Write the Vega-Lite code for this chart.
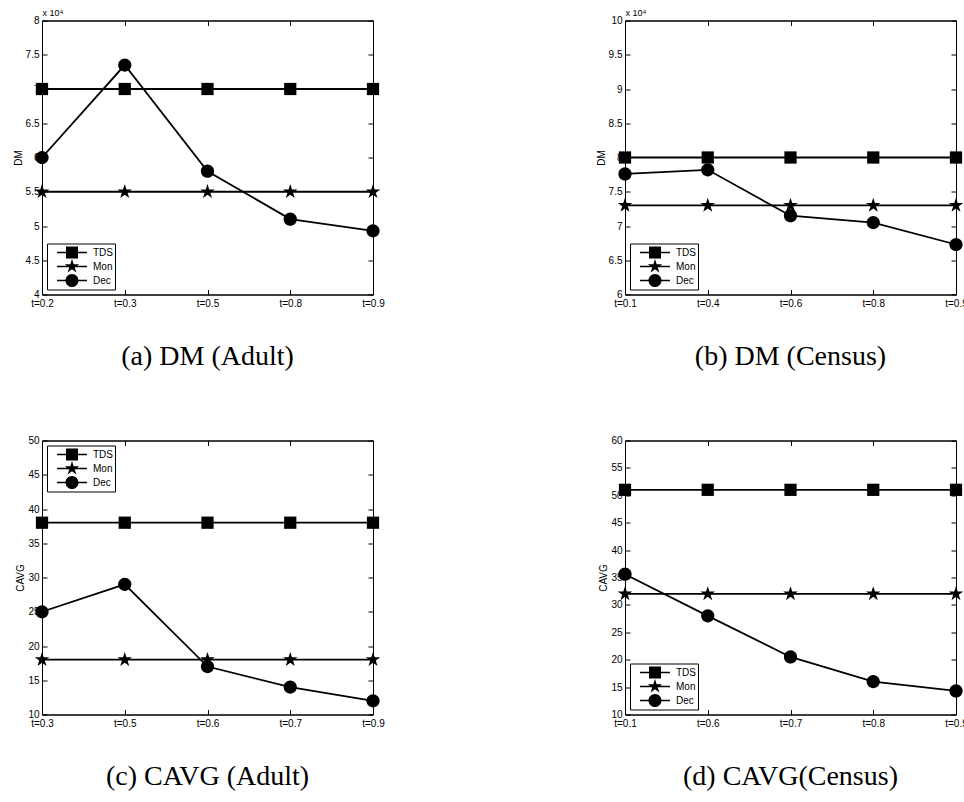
{
  "$schema": "https://vega.github.io/schema/vega-lite/v6.json",
  "background": "white",
  "padding": {"left": 12, "top": 7.5, "right": 0, "bottom": 0},
  "columns": 2,
  "spacing": {"row": 146, "column": 252},
  "bounds": "flush",
  "config": {
    "view": {"stroke": "black", "strokeWidth": 1},
    "axis": {
      "grid": false,
      "domainColor": "black",
      "domainWidth": 1,
      "tickColor": "black",
      "tickWidth": 1,
      "tickSize": -5,
      "labelFont": "Liberation Sans",
      "labelFontSize": 10,
      "labelColor": "black",
      "titleFont": "Liberation Sans",
      "titleFontSize": 10,
      "titleFontWeight": "normal",
      "titleColor": "black"
    },
    "legend": {
      "title": null,
      "strokeColor": "black",
      "fillColor": "white",
      "padding": 2,
      "offset": 5,
      "symbolSize": 196,
      "symbolOffset": 16,
      "symbolFillColor": "black",
      "symbolStrokeWidth": 0,
      "labelFont": "Liberation Sans",
      "labelFontSize": 10,
      "labelColor": "black",
      "labelOffset": 14,
      "rowPadding": 0
    },
    "title": {
      "orient": "bottom",
      "anchor": "middle",
      "frame": "group",
      "font": "Liberation Serif",
      "fontSize": 28,
      "fontWeight": "normal",
      "color": "black",
      "offset": 34
    }
  },
  "concat": [
    {
      "width": 331,
      "height": 274,
      "title": "(a) DM (Adult)",
      "data": {"values": [
        {"t": "t=0.2", "method": "TDS", "value": 70000},
        {"t": "t=0.3", "method": "TDS", "value": 70000},
        {"t": "t=0.5", "method": "TDS", "value": 70000},
        {"t": "t=0.8", "method": "TDS", "value": 70000},
        {"t": "t=0.9", "method": "TDS", "value": 70000},
        {"t": "t=0.2", "method": "Mon", "value": 55000},
        {"t": "t=0.3", "method": "Mon", "value": 55000},
        {"t": "t=0.5", "method": "Mon", "value": 55000},
        {"t": "t=0.8", "method": "Mon", "value": 55000},
        {"t": "t=0.9", "method": "Mon", "value": 55000},
        {"t": "t=0.2", "method": "Dec", "value": 60000},
        {"t": "t=0.3", "method": "Dec", "value": 73500},
        {"t": "t=0.5", "method": "Dec", "value": 58000},
        {"t": "t=0.8", "method": "Dec", "value": 51000},
        {"t": "t=0.9", "method": "Dec", "value": 49300}
      ]},
      "layer": [
        {
          "mark": {"type": "line", "color": "black", "strokeWidth": 1.8},
          "encoding": {
            "x": {"field": "t", "type": "ordinal", "sort": null, "scale": {"type": "point", "padding": 0},
                  "axis": {"orient": "bottom", "title": null, "labelAngle": 0, "labelPadding": 9}},
            "y": {"field": "value", "type": "quantitative", "scale": {"domain": [40000, 80000], "nice": false, "zero": false},
                  "axis": {"orient": "left", "title": "DM", "titlePadding": 2, "labelPadding": 8,
                           "values": [40000, 45000, 50000, 55000, 60000, 65000, 70000, 75000, 80000],
                           "labelExpr": "format(datum.value / 10000, '~g')"}},
            "detail": {"field": "method"}
          }
        },
        {
          "mark": {"type": "point", "filled": true, "color": "black", "opacity": 1, "size": 150},
          "encoding": {
            "x": {"field": "t", "type": "ordinal", "sort": null,
                  "axis": {"orient": "top", "labels": false, "title": "x 10⁴", "titleX": 0, "titleY": -5,
                           "titleAlign": "left", "titleBaseline": "alphabetic", "titleFontSize": 9}},
            "y": {"field": "value", "type": "quantitative",
                  "axis": {"orient": "right", "labels": false, "title": null,
                           "values": [40000, 45000, 50000, 55000, 60000, 65000, 70000, 75000, 80000]}},
            "shape": {"field": "method", "type": "nominal", "legend": null,
                      "scale": {"domain": ["TDS", "Mon", "Dec"],
                                "range": ["square", "M0,-1.25L0.281,-0.386L1.189,-0.386L0.454,0.148L0.735,1.011L0,0.478L-0.735,1.011L-0.454,0.148L-1.189,-0.386L-0.281,-0.386Z", "M-1.08,0A1.08,1.08,0,1,1,1.08,0A1.08,1.08,0,1,1,-1.08,0Z"]}}
          }
        },
        {
          "mark": {"type": "point", "filled": true, "color": "black", "opacity": 1, "size": 0},
          "encoding": {
            "x": {"field": "t", "type": "ordinal", "sort": null, "axis": null},
            "y": {"field": "value", "type": "quantitative", "axis": null},
            "shape": {"field": "method", "type": "nominal",
                      "scale": {"domain": ["TDS", "Mon", "Dec"],
                                "range": ["M-2.14,-0.107H2.14V0.107H-2.14ZM-0.857,-0.857H0.857V0.857H-0.857Z", "M-2.14,-0.107H2.14V0.107H-2.14ZM0,-1.07L0.24,-0.331L1.018,-0.331L0.389,0.126L0.629,0.866L0,0.409L-0.629,0.866L-0.389,0.126L-1.018,-0.331L-0.24,-0.331Z", "M-2.14,-0.107H2.14V0.107H-2.14ZM-0.93,0A0.93,0.93,0,1,1,0.93,0A0.93,0.93,0,1,1,-0.93,0Z"]},
                      "legend": {"orient": "bottom-left"}}
          }
        }
      ],
      "resolve": {"axis": {"x": "independent", "y": "independent"}, "scale": {"shape": "independent"}, "legend": {"shape": "independent"}}
    },
    {
      "width": 331,
      "height": 274,
      "title": "(b) DM (Census)",
      "data": {"values": [
        {"t": "t=0.1", "method": "TDS", "value": 80000},
        {"t": "t=0.4", "method": "TDS", "value": 80000},
        {"t": "t=0.6", "method": "TDS", "value": 80000},
        {"t": "t=0.8", "method": "TDS", "value": 80000},
        {"t": "t=0.9", "method": "TDS", "value": 80000},
        {"t": "t=0.1", "method": "Mon", "value": 73000},
        {"t": "t=0.4", "method": "Mon", "value": 73000},
        {"t": "t=0.6", "method": "Mon", "value": 73000},
        {"t": "t=0.8", "method": "Mon", "value": 73000},
        {"t": "t=0.9", "method": "Mon", "value": 73000},
        {"t": "t=0.1", "method": "Dec", "value": 77600},
        {"t": "t=0.4", "method": "Dec", "value": 78200},
        {"t": "t=0.6", "method": "Dec", "value": 71500},
        {"t": "t=0.8", "method": "Dec", "value": 70500},
        {"t": "t=0.9", "method": "Dec", "value": 67300}
      ]},
      "layer": [
        {
          "mark": {"type": "line", "color": "black", "strokeWidth": 1.8},
          "encoding": {
            "x": {"field": "t", "type": "ordinal", "sort": null, "scale": {"type": "point", "padding": 0},
                  "axis": {"orient": "bottom", "title": null, "labelAngle": 0, "labelPadding": 9}},
            "y": {"field": "value", "type": "quantitative", "scale": {"domain": [60000, 100000], "nice": false, "zero": false},
                  "axis": {"orient": "left", "title": "DM", "titlePadding": 2, "labelPadding": 8,
                           "values": [60000, 65000, 70000, 75000, 80000, 85000, 90000, 95000, 100000],
                           "labelExpr": "format(datum.value / 10000, '~g')"}},
            "detail": {"field": "method"}
          }
        },
        {
          "mark": {"type": "point", "filled": true, "color": "black", "opacity": 1, "size": 150},
          "encoding": {
            "x": {"field": "t", "type": "ordinal", "sort": null,
                  "axis": {"orient": "top", "labels": false, "title": "x 10⁴", "titleX": 0, "titleY": -5,
                           "titleAlign": "left", "titleBaseline": "alphabetic", "titleFontSize": 9}},
            "y": {"field": "value", "type": "quantitative",
                  "axis": {"orient": "right", "labels": false, "title": null,
                           "values": [60000, 65000, 70000, 75000, 80000, 85000, 90000, 95000, 100000]}},
            "shape": {"field": "method", "type": "nominal", "legend": null,
                      "scale": {"domain": ["TDS", "Mon", "Dec"],
                                "range": ["square", "M0,-1.25L0.281,-0.386L1.189,-0.386L0.454,0.148L0.735,1.011L0,0.478L-0.735,1.011L-0.454,0.148L-1.189,-0.386L-0.281,-0.386Z", "M-1.08,0A1.08,1.08,0,1,1,1.08,0A1.08,1.08,0,1,1,-1.08,0Z"]}}
          }
        },
        {
          "mark": {"type": "point", "filled": true, "color": "black", "opacity": 1, "size": 0},
          "encoding": {
            "x": {"field": "t", "type": "ordinal", "sort": null, "axis": null},
            "y": {"field": "value", "type": "quantitative", "axis": null},
            "shape": {"field": "method", "type": "nominal",
                      "scale": {"domain": ["TDS", "Mon", "Dec"],
                                "range": ["M-2.14,-0.107H2.14V0.107H-2.14ZM-0.857,-0.857H0.857V0.857H-0.857Z", "M-2.14,-0.107H2.14V0.107H-2.14ZM0,-1.07L0.24,-0.331L1.018,-0.331L0.389,0.126L0.629,0.866L0,0.409L-0.629,0.866L-0.389,0.126L-1.018,-0.331L-0.24,-0.331Z", "M-2.14,-0.107H2.14V0.107H-2.14ZM-0.93,0A0.93,0.93,0,1,1,0.93,0A0.93,0.93,0,1,1,-0.93,0Z"]},
                      "legend": {"orient": "bottom-left"}}
          }
        }
      ],
      "resolve": {"axis": {"x": "independent", "y": "independent"}, "scale": {"shape": "independent"}, "legend": {"shape": "independent"}}
    },
    {
      "width": 331,
      "height": 274,
      "title": "(c) CAVG (Adult)",
      "data": {"values": [
        {"t": "t=0.3", "method": "TDS", "value": 38},
        {"t": "t=0.5", "method": "TDS", "value": 38},
        {"t": "t=0.6", "method": "TDS", "value": 38},
        {"t": "t=0.7", "method": "TDS", "value": 38},
        {"t": "t=0.9", "method": "TDS", "value": 38},
        {"t": "t=0.3", "method": "Mon", "value": 18},
        {"t": "t=0.5", "method": "Mon", "value": 18},
        {"t": "t=0.6", "method": "Mon", "value": 18},
        {"t": "t=0.7", "method": "Mon", "value": 18},
        {"t": "t=0.9", "method": "Mon", "value": 18},
        {"t": "t=0.3", "method": "Dec", "value": 25},
        {"t": "t=0.5", "method": "Dec", "value": 29},
        {"t": "t=0.6", "method": "Dec", "value": 17},
        {"t": "t=0.7", "method": "Dec", "value": 14},
        {"t": "t=0.9", "method": "Dec", "value": 12}
      ]},
      "layer": [
        {
          "mark": {"type": "line", "color": "black", "strokeWidth": 1.8},
          "encoding": {
            "x": {"field": "t", "type": "ordinal", "sort": null, "scale": {"type": "point", "padding": 0},
                  "axis": {"orient": "bottom", "title": null, "labelAngle": 0, "labelPadding": 9}},
            "y": {"field": "value", "type": "quantitative", "scale": {"domain": [10, 50], "nice": false, "zero": false},
                  "axis": {"orient": "left", "title": "CAVG", "titlePadding": 2, "labelPadding": 8,
                           "values": [10, 15, 20, 25, 30, 35, 40, 45, 50]}},
            "detail": {"field": "method"}
          }
        },
        {
          "mark": {"type": "point", "filled": true, "color": "black", "opacity": 1, "size": 150},
          "encoding": {
            "x": {"field": "t", "type": "ordinal", "sort": null,
                  "axis": {"orient": "top", "labels": false, "title": null}},
            "y": {"field": "value", "type": "quantitative",
                  "axis": {"orient": "right", "labels": false, "title": null,
                           "values": [10, 15, 20, 25, 30, 35, 40, 45, 50]}},
            "shape": {"field": "method", "type": "nominal", "legend": null,
                      "scale": {"domain": ["TDS", "Mon", "Dec"],
                                "range": ["square", "M0,-1.25L0.281,-0.386L1.189,-0.386L0.454,0.148L0.735,1.011L0,0.478L-0.735,1.011L-0.454,0.148L-1.189,-0.386L-0.281,-0.386Z", "M-1.08,0A1.08,1.08,0,1,1,1.08,0A1.08,1.08,0,1,1,-1.08,0Z"]}}
          }
        },
        {
          "mark": {"type": "point", "filled": true, "color": "black", "opacity": 1, "size": 0},
          "encoding": {
            "x": {"field": "t", "type": "ordinal", "sort": null, "axis": null},
            "y": {"field": "value", "type": "quantitative", "axis": null},
            "shape": {"field": "method", "type": "nominal",
                      "scale": {"domain": ["TDS", "Mon", "Dec"],
                                "range": ["M-2.14,-0.107H2.14V0.107H-2.14ZM-0.857,-0.857H0.857V0.857H-0.857Z", "M-2.14,-0.107H2.14V0.107H-2.14ZM0,-1.07L0.24,-0.331L1.018,-0.331L0.389,0.126L0.629,0.866L0,0.409L-0.629,0.866L-0.389,0.126L-1.018,-0.331L-0.24,-0.331Z", "M-2.14,-0.107H2.14V0.107H-2.14ZM-0.93,0A0.93,0.93,0,1,1,0.93,0A0.93,0.93,0,1,1,-0.93,0Z"]},
                      "legend": {"orient": "top-left"}}
          }
        }
      ],
      "resolve": {"axis": {"x": "independent", "y": "independent"}, "scale": {"shape": "independent"}, "legend": {"shape": "independent"}}
    },
    {
      "width": 331,
      "height": 274,
      "title": "(d) CAVG(Census)",
      "data": {"values": [
        {"t": "t=0.1", "method": "TDS", "value": 51},
        {"t": "t=0.6", "method": "TDS", "value": 51},
        {"t": "t=0.7", "method": "TDS", "value": 51},
        {"t": "t=0.8", "method": "TDS", "value": 51},
        {"t": "t=0.9", "method": "TDS", "value": 51},
        {"t": "t=0.1", "method": "Mon", "value": 32},
        {"t": "t=0.6", "method": "Mon", "value": 32},
        {"t": "t=0.7", "method": "Mon", "value": 32},
        {"t": "t=0.8", "method": "Mon", "value": 32},
        {"t": "t=0.9", "method": "Mon", "value": 32},
        {"t": "t=0.1", "method": "Dec", "value": 35.6},
        {"t": "t=0.6", "method": "Dec", "value": 28},
        {"t": "t=0.7", "method": "Dec", "value": 20.5},
        {"t": "t=0.8", "method": "Dec", "value": 16},
        {"t": "t=0.9", "method": "Dec", "value": 14.3}
      ]},
      "layer": [
        {
          "mark": {"type": "line", "color": "black", "strokeWidth": 1.8},
          "encoding": {
            "x": {"field": "t", "type": "ordinal", "sort": null, "scale": {"type": "point", "padding": 0},
                  "axis": {"orient": "bottom", "title": null, "labelAngle": 0, "labelPadding": 9}},
            "y": {"field": "value", "type": "quantitative", "scale": {"domain": [10, 60], "nice": false, "zero": false},
                  "axis": {"orient": "left", "title": "CAVG", "titlePadding": 2, "labelPadding": 8,
                           "values": [10, 15, 20, 25, 30, 35, 40, 45, 50, 55, 60]}},
            "detail": {"field": "method"}
          }
        },
        {
          "mark": {"type": "point", "filled": true, "color": "black", "opacity": 1, "size": 150},
          "encoding": {
            "x": {"field": "t", "type": "ordinal", "sort": null,
                  "axis": {"orient": "top", "labels": false, "title": null}},
            "y": {"field": "value", "type": "quantitative",
                  "axis": {"orient": "right", "labels": false, "title": null,
                           "values": [10, 15, 20, 25, 30, 35, 40, 45, 50, 55, 60]}},
            "shape": {"field": "method", "type": "nominal", "legend": null,
                      "scale": {"domain": ["TDS", "Mon", "Dec"],
                                "range": ["square", "M0,-1.25L0.281,-0.386L1.189,-0.386L0.454,0.148L0.735,1.011L0,0.478L-0.735,1.011L-0.454,0.148L-1.189,-0.386L-0.281,-0.386Z", "M-1.08,0A1.08,1.08,0,1,1,1.08,0A1.08,1.08,0,1,1,-1.08,0Z"]}}
          }
        },
        {
          "mark": {"type": "point", "filled": true, "color": "black", "opacity": 1, "size": 0},
          "encoding": {
            "x": {"field": "t", "type": "ordinal", "sort": null, "axis": null},
            "y": {"field": "value", "type": "quantitative", "axis": null},
            "shape": {"field": "method", "type": "nominal",
                      "scale": {"domain": ["TDS", "Mon", "Dec"],
                                "range": ["M-2.14,-0.107H2.14V0.107H-2.14ZM-0.857,-0.857H0.857V0.857H-0.857Z", "M-2.14,-0.107H2.14V0.107H-2.14ZM0,-1.07L0.24,-0.331L1.018,-0.331L0.389,0.126L0.629,0.866L0,0.409L-0.629,0.866L-0.389,0.126L-1.018,-0.331L-0.24,-0.331Z", "M-2.14,-0.107H2.14V0.107H-2.14ZM-0.93,0A0.93,0.93,0,1,1,0.93,0A0.93,0.93,0,1,1,-0.93,0Z"]},
                      "legend": {"orient": "bottom-left"}}
          }
        }
      ],
      "resolve": {"axis": {"x": "independent", "y": "independent"}, "scale": {"shape": "independent"}, "legend": {"shape": "independent"}}
    }
  ],
  "resolve": {"scale": {"shape": "independent"}, "legend": {"shape": "independent"}}
}
